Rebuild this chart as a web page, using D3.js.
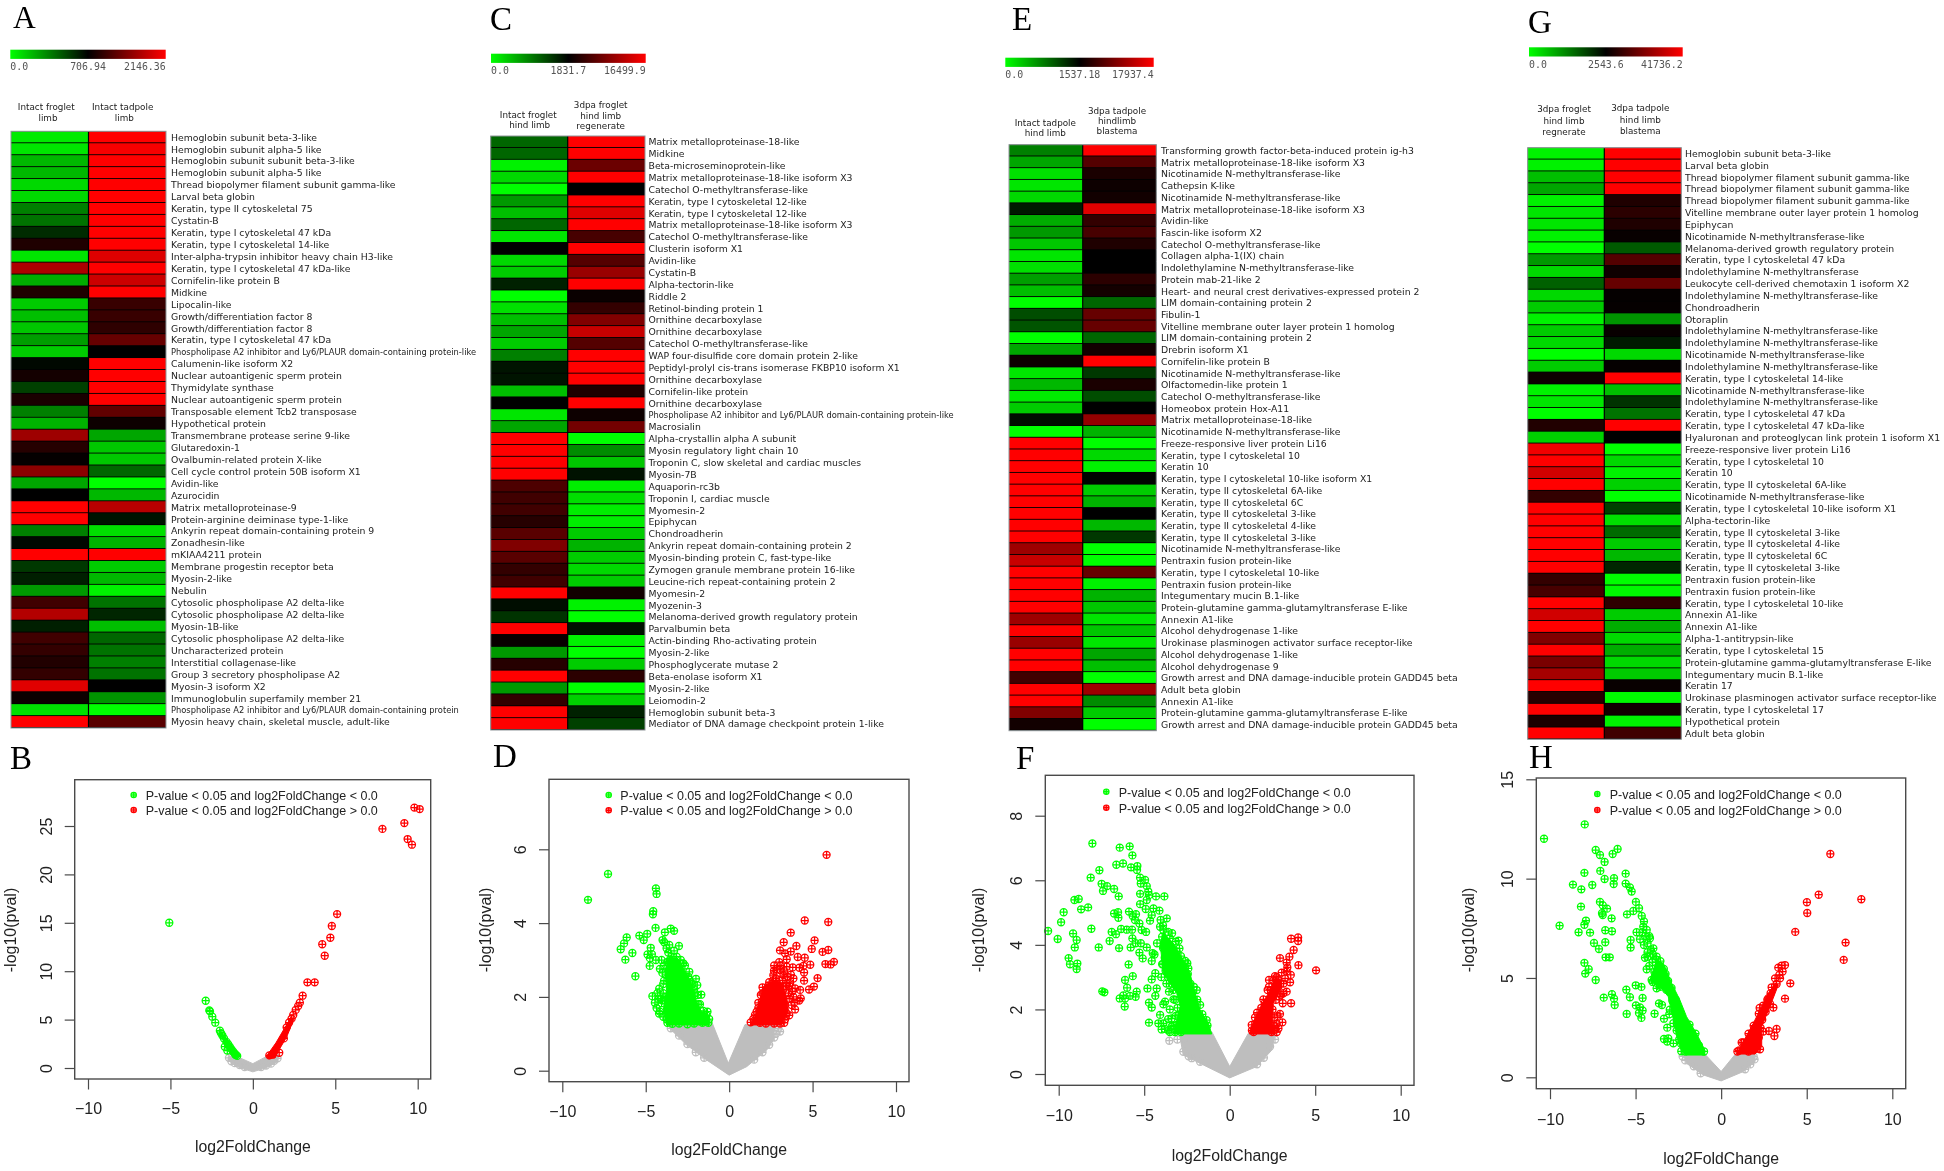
<!DOCTYPE html>
<html><head><meta charset="utf-8">
<script src="https://cdn.jsdelivr.net/npm/d3@7/dist/d3.min.js"></script>
<style>html,body{margin:0;padding:0;background:#fff}svg{display:block;filter:blur(.35px)}</style>
</head><body><svg id="fig" width="1944" height="1171"></svg>
<script>
/* ---------- heatmap data: row labels and the two columns, -1 green .. 0 black .. +1 red ---------- */
const aLabels=["Hemoglobin subunit beta-3-like","Hemoglobin subunit alpha-5 like","Hemoglobin subunit subunit beta-3-like","Hemoglobin subunit alpha-5 like","Thread biopolymer filament subunit gamma-like","Larval beta globin","Keratin, type II cytoskeletal 75","Cystatin-B","Keratin, type I cytoskeletal 47 kDa","Keratin, type I cytoskeletal 14-like","Inter-alpha-trypsin inhibitor heavy chain H3-like","Keratin, type I cytoskeletal 47 kDa-like","Cornifelin-like protein B","Midkine","Lipocalin-like","Growth/differentiation factor 8","Growth/differentiation factor 8","Keratin, type I cytoskeletal 47 kDa","Phospholipase A2 inhibitor and Ly6/PLAUR domain-containing protein-like","Calumenin-like isoform X2","Nuclear autoantigenic sperm protein","Thymidylate synthase","Nuclear autoantigenic sperm protein","Transposable element Tcb2 transposase","Hypothetical protein","Transmembrane protease serine 9-like","Glutaredoxin-1","Ovalbumin-related protein X-like","Cell cycle control protein 50B isoform X1","Avidin-like","Azurocidin","Matrix metalloproteinase-9","Protein-arginine deiminase type-1-like","Ankyrin repeat domain-containing protein 9","Zonadhesin-like","mKIAA4211 protein","Membrane progestin receptor beta","Myosin-2-like","Nebulin","Cytosolic phospholipase A2 delta-like","Cytosolic phospholipase A2 delta-like","Myosin-1B-like","Cytosolic phospholipase A2 delta-like","Uncharacterized protein","Interstitial collagenase-like","Group 3 secretory phospholipase A2","Myosin-3 isoform X2","Immunoglobulin superfamily member 21","Phospholipase A2 inhibitor and Ly6/PLAUR domain-containing protein","Myosin heavy chain, skeletal muscle, adult-like"];
const aCol1=[-.92,-.9,-.72,-.72,-.85,-.85,-.5,-.45,-.17,.12,-.9,.68,-.68,.12,-.8,-.75,-.78,-.62,-.8,-.03,.08,-.25,.1,-.5,-.7,.62,.15,.02,.55,-.65,0,1,1,-.5,-.03,1,-.22,-.12,-.6,.25,.7,-.12,.25,.2,.13,.2,.88,.05,-.88,1];
const aCol2=[1,.97,1,1,1,1,1,1,1,1,.87,1,.8,1,.22,.22,.18,.4,0,1,1,1,1,.38,.05,-.65,-.78,-.78,-.4,-1,-.72,.72,-.08,-.88,-.7,1,-.8,-.72,-.95,-.45,-.15,-.75,-.4,-.45,-.5,-.45,0,-.58,-1,.35];
const cLabels=["Matrix metalloproteinase-18-like","Midkine","Beta-microseminoprotein-like","Matrix metalloproteinase-18-like isoform X3","Catechol O-methyltransferase-like","Keratin, type I cytoskeletal 12-like","Keratin, type I cytoskeletal 12-like","Matrix metalloproteinase-18-like isoform X3","Catechol O-methyltransferase-like","Clusterin isoform X1","Avidin-like","Cystatin-B","Alpha-tectorin-like","Riddle 2","Retinol-binding protein 1","Ornithine decarboxylase","Ornithine decarboxylase","Catechol O-methyltransferase-like","WAP four-disulfide core domain protein 2-like","Peptidyl-prolyl cis-trans isomerase FKBP10 isoform X1","Ornithine decarboxylase","Cornifelin-like protein","Ornithine decarboxylase","Phospholipase A2 inhibitor and Ly6/PLAUR domain-containing protein-like","Macrosialin","Alpha-crystallin alpha A subunit","Myosin regulatory light chain 10","Troponin C, slow skeletal and cardiac muscles","Myosin-7B","Aquaporin-rc3b","Troponin I, cardiac muscle","Myomesin-2","Epiphycan","Chondroadherin","Ankyrin repeat domain-containing protein 2","Myosin-binding protein C, fast-type-like","Zymogen granule membrane protein 16-like","Leucine-rich repeat-containing protein 2","Myomesin-2","Myozenin-3","Melanoma-derived growth regulatory protein","Parvalbumin beta","Actin-binding Rho-activating protein","Myosin-2-like","Phosphoglycerate mutase 2","Beta-enolase isoform X1","Myosin-2-like","Leiomodin-2","Hemoglobin subunit beta-3","Mediator of DNA damage checkpoint protein 1-like"];
const cCol1=[-.4,-.4,-.95,-.85,-1,-.6,-.75,-.4,-.9,0,-.85,-.8,-.13,-1,-.88,-.75,-.65,-.8,-.5,-.08,-.08,-.75,0,-.9,-.65,1,1,1,1,.3,.25,.25,.15,.35,.5,.35,.2,.25,1,-.05,-.2,1,.03,-.6,.15,1,-.6,.2,1,1];
const cCol2=[1,1,.42,1,0,1,.88,1,.28,1,.33,.6,1,.04,.2,.5,.78,.33,1,1,1,.12,1,.05,.45,-1,-.55,-.78,-.07,-.93,-.87,-.93,-.93,-.8,-.7,-.8,-.85,-.8,.07,-.95,-1,-.07,-.95,-1,-.8,.17,-1,-.82,-.13,-.25];
const eLabels=["Transforming growth factor-beta-induced protein ig-h3","Matrix metalloproteinase-18-like isoform X3","Nicotinamide N-methyltransferase-like","Cathepsin K-like","Nicotinamide N-methyltransferase-like","Matrix metalloproteinase-18-like isoform X3","Avidin-like","Fascin-like isoform X2","Catechol O-methyltransferase-like","Collagen alpha-1(IX) chain","Indolethylamine N-methyltransferase-like","Protein mab-21-like 2","Heart- and neural crest derivatives-expressed protein 2","LIM domain-containing protein 2","Fibulin-1","Vitelline membrane outer layer protein 1 homolog","LIM domain-containing protein 2","Drebrin isoform X1","Cornifelin-like protein B","Nicotinamide N-methyltransferase-like","Olfactomedin-like protein 1","Catechol O-methyltransferase-like","Homeobox protein Hox-A11","Matrix metalloproteinase-18-like","Nicotinamide N-methyltransferase-like","Freeze-responsive liver protein Li16","Keratin, type I cytoskeletal 10","Keratin 10","Keratin, type I cytoskeletal 10-like isoform X1","Keratin, type II cytoskeletal 6A-like","Keratin, type II cytoskeletal 6C","Keratin, type II cytoskeletal 3-like","Keratin, type II cytoskeletal 4-like","Keratin, type II cytoskeletal 3-like","Nicotinamide N-methyltransferase-like","Pentraxin fusion protein-like","Keratin, type I cytoskeletal 10-like","Pentraxin fusion protein-like","Integumentary mucin B.1-like","Protein-glutamine gamma-glutamyltransferase E-like","Annexin A1-like","Alcohol dehydrogenase 1-like","Urokinase plasminogen activator surface receptor-like","Alcohol dehydrogenase 1-like","Alcohol dehydrogenase 9","Growth arrest and DNA damage-inducible protein GADD45 beta","Adult beta globin","Annexin A1-like","Protein-glutamine gamma-glutamyltransferase E-like","Growth arrest and DNA damage-inducible protein GADD45 beta"];
const eCol1=[-.5,-.65,-.88,-.9,-.85,-.1,-.68,-.6,-.78,-.9,-.88,-.62,-.75,-1,-.3,-.33,-1,-.65,.05,-.9,-.72,-.92,-.8,-.05,-1,1,1,1,1,1,1,1,1,1,.62,.78,1,1,1,1,.62,1,.6,1,1,.25,1,1,.5,.07];
const eCol2=[1,.33,.1,.05,.07,.88,.2,.28,.12,0,0,.17,.08,-.4,.4,.4,-.4,.07,1,-.22,.1,-.3,0,.58,-.7,-1,-.85,-.95,-.02,-.8,-.7,0,-.72,-.22,-1,-1,.4,-.95,-.7,-.78,-.9,-.78,-.9,-.65,-.75,-1,.62,-.55,-.8,-1];
const gLabels=["Hemoglobin subunit beta-3-like","Larval beta globin","Thread biopolymer filament subunit gamma-like","Thread biopolymer filament subunit gamma-like","Thread biopolymer filament subunit gamma-like","Vitelline membrane outer layer protein 1 homolog","Epiphycan","Nicotinamide N-methyltransferase-like","Melanoma-derived growth regulatory protein","Keratin, type I cytoskeletal 47 kDa","Indolethylamine N-methyltransferase","Leukocyte cell-derived chemotaxin 1 isoform X2","Indolethylamine N-methyltransferase-like","Chondroadherin","Otoraplin","Indolethylamine N-methyltransferase-like","Indolethylamine N-methyltransferase-like","Nicotinamide N-methyltransferase-like","Indolethylamine N-methyltransferase-like","Keratin, type I cytoskeletal 14-like","Nicotinamide N-methyltransferase-like","Indolethylamine N-methyltransferase-like","Keratin, type I cytoskeletal 47 kDa","Keratin, type I cytoskeletal 47 kDa-like","Hyaluronan and proteoglycan link protein 1 isoform X1","Freeze-responsive liver protein Li16","Keratin, type I cytoskeletal 10","Keratin 10","Keratin, type II cytoskeletal 6A-like","Nicotinamide N-methyltransferase-like","Keratin, type I cytoskeletal 10-like isoform X1","Alpha-tectorin-like","Keratin, type II cytoskeletal 3-like","Keratin, type II cytoskeletal 4-like","Keratin, type II cytoskeletal 6C","Keratin, type II cytoskeletal 3-like","Pentraxin fusion protein-like","Pentraxin fusion protein-like","Keratin, type I cytoskeletal 10-like","Annexin A1-like","Annexin A1-like","Alpha-1-antitrypsin-like","Keratin, type I cytoskeletal 15","Protein-glutamine gamma-glutamyltransferase E-like","Integumentary mucin B.1-like","Keratin 17","Urokinase plasminogen activator surface receptor-like","Keratin, type I cytoskeletal 17","Hypothetical protein","Adult beta globin"];
const gCol1=[-.95,-.95,-.75,-.65,-.95,-.9,-.9,-.95,-1,-.6,-.85,-.38,-.85,-.8,-.95,-.8,-.85,-1,-.8,.05,-.95,-.9,-1,.13,-.82,.95,1,.82,1,.2,1,1,1,1,1,1,.2,.28,1,.82,1,.5,1,.48,.65,1,.15,1,.1,1];
const gCol2=[1,1,1,1,.12,.17,.12,.03,-.35,.33,.06,.4,.02,.02,-.58,.03,-.1,-.85,.02,1,-.75,-.2,-.45,1,0,-1,-.85,-.95,-.82,-1,-.25,-.88,-.42,-.8,-.72,-.15,-1,-.98,.18,-.8,-.68,-.85,-.68,-.85,-.8,.03,-.98,.07,-.95,.25];

/* ---------- colour key tick labels and column titles ---------- */
const aKeyTicks=["0.0","706.94","2146.36"];
const cKeyTicks=["0.0","1831.7","16499.9"];
const eKeyTicks=["0.0","1537.18","17937.4"];
const gKeyTicks=["0.0","2543.6","41736.2"];
const aColTitles=[["Intact froglet","limb"],["Intact tadpole","limb"]];
const cColTitles=[["Intact froglet","hind limb"],["3dpa froglet","hind limb","regenerate"]];
const eColTitles=[["Intact tadpole","hind limb"],["3dpa tadpole","hindlimb","blastema"]];
const gColTitles=[["3dpa froglet","hind limb","regnerate"],["3dpa tadpole","hind limb","blastema"]];

/* ---------- volcano data: [log2FoldChange, -log10(pval)] ---------- */
const xTicks=[-10,-5,0,5,10];
const bYTicks=[0,5,10,15,20,25], dYTicks=[0,2,4,6], fYTicks=[0,2,4,6,8], hYTicks=[0,5,10,15];
const legendTexts=["P-value < 0.05 and log2FoldChange < 0.0","P-value < 0.05 and log2FoldChange > 0.0"];

const bGreen=[[-5.07,15],[-2.86,6.95],[-2.64,5.95],[-2.6,5.85],[-2.46,5.3],[-2.28,4.68],[-2,3.85],[-1.93,3.6],[-1.85,3.35],[-1.75,3.05],[-1.6,2.7],[-1.5,2.45],[-1.4,2.2],[-1.3,1.95],[-1.2,1.7],[-1.1,1.5],[-1.03,1.35],[-1.7,2.2],[-1.55,1.8],[-.95,1.25]];
const bRed=[[10.12,26.75],[9.8,26.9],[9.19,25.3],[7.86,24.7],[9.39,23.65],[9.65,23.07],[5.11,15.9],[4.79,14.67],[4.7,13.46],[4.21,12.78],[4.36,11.6],[3.31,8.85],[3.75,8.85],[3.02,7.47],[2.85,6.75],[2.75,6.4],[2.6,6],[2.45,5.48],[2.35,5.1],[2.2,4.7],[2.05,4.2],[1.6,1.58],[1.88,3.06],[1,1.3],[1.2,1.4]];
const bGray=[[-1.45,1.05],[-1.3,.7],[-1.1,.5],[-.8,.3],[-.5,.1],[1.5,1],[1.3,.75],[1.1,.45],[.8,.25],[.5,.1]];
const bGreenCore=[[-2.05,3.9],[-1.6,3.05],[-1,1.7],[-.75,1.2],[-1.2,1.05],[-1.5,1.95],[-1.95,3.35]];
const bRedCore=[[.82,1.2],[1.4,2.6],[1.9,4.05],[2.3,5.15],[2.48,5],[2.05,3.2],[1.65,2.05],[1.35,1.05],[.95,.95]];
const bGrayCore=[[-1.49,1.2],[-.98,1.2],[0,.45],[.84,1.2],[1.55,1.15],[1.5,.65],[.84,.05],[0,-.4],[-.98,.15],[-1.49,.8]];

const dGreen=[[-8.46,4.63],[-7.26,5.33],[-4.39,4.94],[-4.35,4.79],[-4.55,4.32],[-4.57,4.24],[-4.41,3.87],[-5.38,3.66],[-4.91,3.71],[-5.12,3.54],[-6.14,3.61],[-6.3,3.45],[-6.5,3.29],[-5.8,3.19],[-6.22,3.01],[-5.62,2.56],[-4.7,3.33],[-4.89,3.15],[-4.63,3.16],[-4.75,3.05],[-4.76,2.84],[-4.39,3],[-4.15,2.76],[-3.5,3.85],[-3.3,3.79],[-3.85,3.75],[-3.99,3.54],[-3.89,3.48],[-3.59,3.41],[-3.01,3.38],[-3.75,3.32],[-3.65,3.2],[-4.05,3],[-3.45,3.09],[-3.15,3.09],[-2.75,2.91],[-2.39,2.68],[-3.9,2.44],[-4.19,2.22],[-4.6,2.02],[-4.45,1.84],[-4.05,1.83],[-4.15,1.6],[-3.95,1.46],[-1.99,2.49],[-1.91,2.32],[-1.67,2.06],[-1.35,1.5],[-3.2,2.95],[-3.6,2.9],[-3.9,2.85],[-2.95,2.9],[-2.6,2.45],[-2.3,2.4],[-2.1,2.2],[-1.9,2.05],[-1.75,1.8],[-1.55,1.62],[-1.2,1.4],[-1.25,1.3],[-1.6,1.3],[-2.1,1.28],[-2.5,1.26],[-3,1.28],[-3.4,1.27],[-3.7,1.3],[-3.85,2],[-3.95,2.1],[-4.25,1.95],[-4.35,1.7],[-4.2,1.55],[-4.1,1.95],[-3.95,2.35],[-3.8,2.6],[-4,2.65],[-3.75,1.4],[-4.3,2.1],[-4,1.9],[-3.7,2.95],[-3.4,3],[-3.3,3.25],[-3.55,3],[-2.9,3],[-2.65,2.85],[-2.45,2.55],[-2.2,2.35],[-2.05,2.1],[-1.85,1.8],[-1.6,1.5],[-1.3,1.6]];
const dRed=[[5.84,5.85],[4.53,4.07],[5.94,4.03],[3.69,3.74],[5.12,3.53],[3.27,3.48],[4.03,3.38],[3.05,3.26],[3.69,3.23],[4.95,3.3],[5.94,3.27],[5.6,3.22],[3.35,3.18],[3.45,3.02],[4.11,3.08],[4.53,3.06],[3,2.94],[6.28,2.95],[5.77,2.89],[6.08,2.88],[4.86,2.87],[4.45,2.84],[4.21,2.79],[3.81,2.8],[3.45,2.82],[4.49,2.66],[2.69,2.71],[3.05,2.73],[2.65,2.59],[3.25,2.59],[3.85,2.5],[5.3,2.51],[4.49,2.44],[3.65,2.37],[5.08,2.28],[4.79,2.2],[4.25,2.19],[3.95,2.23],[3.55,2.1],[3.85,2],[4.29,1.96],[4.2,1.9],[3.75,1.78],[3.95,1.66],[3.45,1.55],[3.35,1.39],[3.05,1.28],[2,2.26],[1.75,1.84],[1.29,1.31],[1.55,1.51],[2.65,2.45],[2.8,2.5],[3,2.45],[3.25,2.2],[3.45,2.35],[3.6,2.3],[2.35,2.3],[1.9,2.05],[1.65,1.6],[1.45,1.4],[2.2,1.28],[2.7,1.28],[1.85,1.3],[3.1,2.85],[2.85,2.75],[2.7,2.85],[3.3,2.7],[3.5,2.55],[3.7,2.6],[3.4,2.3],[3.6,1.95],[3.8,2.15],[3.6,1.5],[3.3,1.6],[3.9,1.85],[2,2.1],[1.75,1.7],[1.5,1.35],[3.2,2.45],[2.4,2.4],[2.9,2.35],[3.3,1.3],[1.95,1.55]];
const dGray=[[3.05,1.06],[2.95,1.15],[2.8,1],[2.7,.9],[-3.5,1.15],[-3,.95],[-2.5,.72],[-2,.5],[-1.5,.35],[2.4,.7],[2,.5],[1.5,.3]];
const dGreenCore=[[-3.75,1.24],[-3.95,1.64],[-3.75,2.18],[-3.85,2.73],[-3.55,3.09],[-2.95,2.95],[-2.55,2.63],[-2.15,2.23],[-1.95,1.87],[-1.65,1.6],[-1.19,1.48],[-1.19,1.24]];
const dRedCore=[[1.25,1.24],[1.55,1.47],[1.85,1.92],[2.05,2.28],[2.65,2.46],[3.15,2.37],[3.45,2],[3.55,1.64],[3.15,1.24]];
const dGrayCore=[[-3.65,1.25],[-1.05,1.33],[-.05,.2],[.95,1.25],[2.75,1.25],[2.65,.83],[2.25,.56],[1.05,.11],[0,-.12],[-1.35,.29],[-2.55,.7],[-3.55,1.14]];

const fGreen=[[-8.03,7.14],[-6.43,7.01],[-5.85,7.05],[-5.69,6.77],[-6.63,6.48],[-6.24,6.52],[-7.62,6.31],[-5.77,6.4],[-5.4,6.44],[-5.42,6.32],[-8.13,6.08],[-7.49,5.89],[-7.17,5.82],[-6.76,5.73],[-7.41,5.67],[-6.49,5.5],[-5.24,6.08],[-4.95,6.01],[-5.2,5.9],[-4.85,5.82],[-5.24,5.58],[-4.76,5.65],[-4.72,5.54],[-4.31,5.5],[-3.82,5.5],[-4.85,5.39],[-5.24,5.26],[-4.91,5.11],[-4.46,5.13],[-4.11,5.06],[-4.56,4.92],[-4.66,4.75],[-4.04,4.77],[-3.68,4.82],[-4.07,4.56],[-3.88,4.46],[-3.37,4.36],[-9.08,5.39],[-8.83,5.42],[-8.28,5.16],[-8.69,5.1],[-9.71,5.01],[-9.86,4.7],[-10.62,4.43],[-10.06,4.18],[-9.16,4.35],[-8.95,4.15],[-9.06,3.92],[-8.09,4.5],[-7.66,3.92],[-9.42,3.59],[-9.34,3.4],[-8.91,3.42],[-8.95,3.25],[-7.45,2.56],[-7.33,2.53],[-6.9,4.4],[-7.02,4.12],[-6.65,4.33],[-6.76,4.97],[-6.53,5.01],[-6.51,4.84],[-6.35,4.49],[-6.02,4.47],[-5.71,4.47],[-5.89,5.03],[-5.67,4.89],[-5.48,4.95],[-5.54,4.77],[-5.28,4.66],[-5.15,4.46],[-4.89,4.4],[-5.69,4.2],[-6.47,3.9],[-5.79,3.92],[-5.5,4.05],[-5.2,4.05],[-4.85,3.92],[-5.28,3.76],[-5.09,3.58],[-4.5,3.74],[-4.56,3.5],[-5.91,3.39],[-5.67,3.03],[-6.12,2.91],[-6,2.67],[-4.35,3.12],[-4.56,2.93],[-4.81,2.65],[-4.27,2.65],[-6.22,2.43],[-6.43,2.34],[-6.12,2.34],[-6.14,2.09],[-5.44,2.55],[-5.5,2.39],[-5.83,2.42],[-4.35,2.42],[-4.72,2.21],[-4.56,2.06],[-4.72,1.59],[-4.17,1.57],[-3.98,1.38],[-4.07,1.83],[-3.88,1.57],[-3.78,2.24],[-3.88,2.16],[-3.29,2.31],[-3.39,1.72],[-3,1.83],[-3.1,1.52],[-3.39,1.47],[-3,4.13],[-2.48,3.43],[-2.42,3.27],[-2.94,3.89],[-1.93,2.6],[-1.73,2.14],[-1.35,1.67],[-3.49,3.89],[-4.25,4.05],[-4.4,3.7],[-3.9,3.4],[-4,3],[-3.7,2.8],[-3.55,2.55],[-3.45,3.2],[-3.3,3.6],[-2.8,3.3],[-2.6,2.95],[-2.3,2.8],[-2.2,2.5],[-3.6,1.35],[-3.2,1.3],[-2.85,1.3],[-3.9,3.9],[-3.8,3.6],[-3.95,3.4],[-3.75,3.2],[-3.6,3],[-3.4,2.8],[-3.3,2.6],[-3.2,2.3],[-3.05,2.05],[-3.15,1.8],[-3.3,1.5],[-3.6,1.7],[-3.5,2],[-3.8,1.4],[-3.5,1.3],[-2.6,3.5],[-2.45,3.1],[-2.1,2.7],[-1.9,2.3],[-1.6,1.85],[-1.3,1.5],[-3.1,3.8],[-3.5,4.2],[-3.6,4.4],[-3.95,4.25],[-3.9,4.6],[-3.15,4.1],[-2.85,3.65]];
const fRed=[[5.05,3.21],[4.02,3.37],[4,4.23],[4,4.12],[3.59,4.19],[3.74,3.84],[2.94,3.59],[3.49,3.63],[3.33,3.45],[3.37,3.3],[3.33,3.17],[3.04,3.14],[3.57,3.07],[3.53,2.84],[3.24,2.96],[2.65,3.03],[2.3,2.91],[2.85,2.91],[3.33,2.55],[3.14,2.5],[2.22,2.6],[3.59,2.19],[3.1,2.19],[2.94,1.86],[3.08,1.6],[2.85,1.41],[1.97,2.31],[1.48,1.75],[1.29,1.52],[2.8,1.8],[2.75,1.55],[2.6,1.35],[2.9,2.4],[2.7,2.75],[1.3,1.35],[1.6,1.9],[1.85,2.05],[2.05,2.2],[2.4,2.6],[2.55,2.9],[2.85,2.7],[3,2.45],[2.7,2.3],[2.5,2],[2.6,1.75],[2.75,1.3],[2.45,1.3],[1.4,1.3],[2.6,1.5],[2.3,2.7],[2.75,3],[3.15,2.8]];
const fGray=[[-3.53,1.03],[-3.06,1.07],[-2.61,1.1],[2.65,1.07],[2.36,.85],[-2.71,.69],[-2.22,.49],[-1.73,.38],[2,.5],[1.6,.3],[-2.4,.55]];
const fGreenCore=[[-3.29,1.24],[-2.9,2.09],[-3.1,2.5],[-3.88,3.12],[-4.07,4.05],[-3.88,4.36],[-3.29,4.05],[-2.71,3.53],[-2.32,3.12],[-2.03,2.5],[-1.73,1.99],[-1.25,1.57],[-1.05,1.24]];
const fRedCore=[[1.15,1.24],[1.38,1.62],[1.87,2.14],[2.26,2.5],[2.65,2.96],[3.04,2.91],[3.04,2.7],[2.55,2.19],[2.51,1.57],[2.65,1.24]];
const fGrayCore=[[-2.9,1.25],[-1.05,1.31],[0,.23],[1.09,1.26],[2.65,1.25],[2.46,.74],[1.58,.23],[0,-.12],[-1.54,.28],[-2.71,.59],[-2.9,1.1]];

const hGreen=[[-10.35,12.01],[-7.97,12.73],[-7.33,11.44],[-7.08,11.19],[-6.81,10.84],[-6.34,11.24],[-6.05,11.49],[-7.06,10.39],[-7.99,10.29],[-6.81,9.98],[-6.26,10.02],[-6.28,9.73],[-5.58,10.25],[-5.58,9.75],[-5.33,9.56],[-5.23,9.35],[-8.66,9.7],[-7.53,9.68],[-8.17,9.46],[-7.08,8.83],[-6.92,8.66],[-6.67,8.49],[-8.19,8.59],[-6.96,8.26],[-6.92,8.17],[-6.4,8],[-5.5,8.2],[-5.13,8.37],[-4.98,8.83],[-4.8,8.51],[-4.64,8.12],[-7.9,7.89],[-7.99,7.68],[-9.44,7.63],[-8.33,7.3],[-7.66,7.28],[-6.77,7.4],[-6.38,7.35],[-7.43,6.76],[-6.77,6.8],[-7.14,6.46],[-6.75,6.04],[-6.51,6.04],[-5.29,6.91],[-5.29,6.53],[-4.94,7.3],[-4.74,6.95],[-4.51,7.84],[-4.55,7.58],[-4.35,7.42],[-4.16,7],[-4.51,6.66],[-4.45,6.02],[-4.31,6.07],[-4.35,5.44],[-3.96,6.49],[-3.77,6.07],[-7.99,5.76],[-7.74,5.44],[-7.94,5.22],[-7.33,4.9],[-6.86,4.01],[-6.38,4.18],[-6.26,3.96],[-6.22,3.64],[-5.54,4.41],[-5.33,4.03],[-4.99,4.63],[-4.66,4.55],[-4.59,3.99],[-4.98,3.62],[-4.74,3.52],[-4.59,3.36],[-4.8,3.24],[-4.66,2.99],[-5.52,3.19],[-3.89,3.2],[-3.63,3.72],[-3.46,3.64],[-3.34,2.95],[-3.15,2.5],[-3.34,1.93],[-3.15,1.8],[-2.79,1.71],[-3.09,1.96],[-2.33,1.31],[-3.03,3.17],[-2.79,2.72],[-4.06,4.9],[-3.77,4.48],[-3.57,4.56],[-4.45,7.1],[-4.3,6.75],[-4.1,6.4],[-4,6.2],[-3.85,5.95],[-4.2,5.6],[-3.9,5.3],[-3.55,5.85],[-3.35,5.45],[-3.1,4.85],[-2.9,4.5],[-2.65,3.9],[-2.4,3.1],[-2.2,2.8],[-1.85,2.65],[-1.5,2.2],[-2.6,2.35],[-2.45,1.9],[-3.5,5.5],[-3.8,5.1],[-4,4.8],[-3.7,4.7],[-3.25,5.2],[-3.2,4.4],[-2.85,3.85],[-3,3.4],[-2.7,3.3],[-2.55,2.9],[-2.2,2.4],[-2.35,1.7],[-1.7,1.9],[-1.3,1.6],[-1,1.3],[-2.1,1.3],[-4,5.8],[-4.3,6.3],[-4.6,7.3],[-4.2,7.1]];
const hRed=[[6.38,11.24],[5.7,9.19],[8.19,8.96],[5.01,8.81],[5.03,8.27],[4.33,7.32],[7.27,6.78],[7.16,5.91],[3.73,5.65],[3.53,5.62],[3.34,5.52],[3.59,5.32],[3.4,5.15],[3.44,4.98],[3.15,4.98],[4.04,4.73],[3.24,4.7],[2.95,4.53],[2.89,4.23],[2.76,3.98],[3.73,3.96],[2.25,3.49],[3.05,3.51],[3.24,2.43],[2.79,2.33],[2.46,2.3],[3.11,2.08],[2.27,1.41],[2.1,1.45],[1.2,1.75],[.95,1.3],[1.05,1.35],[1.3,1.75],[1.6,2.2],[1.9,2.6],[2.2,3.2],[2.45,3.6],[2.7,3.9],[2.85,3.7],[2.6,3.3],[2.4,2.9],[2.3,2.5],[2.2,2],[1.9,1.4],[1.6,1.3],[2.05,2.3]];
const hGray=[[-2.25,1.05],[-2.1,.85],[-1.6,.55],[-1.2,.2],[1.9,1.05],[1.95,.9],[1.7,.65],[1.4,.4]];
const hGreenCore=[[-2.31,1.3],[-2.6,2.05],[-2.79,2.89],[-3.09,4.06],[-3.57,4.56],[-4.16,4.9],[-3.77,5.9],[-3.38,5.74],[-2.89,4.73],[-2.41,3.89],[-2.02,3.05],[-1.44,2.21],[-.95,1.37],[-.95,1.12],[-2.02,1.12]];
const hRedCore=[[.91,1.17],[1.3,1.8],[1.88,2.72],[2.37,3.56],[2.76,4.23],[3.15,4.73],[3.34,4.65],[2.85,3.56],[2.37,2.55],[2.37,1.54],[1.98,1.17]];
const hGrayCore=[[-2.21,1.2],[-1.04,1.25],[0,.29],[.91,1.25],[1.98,1.2],[1.98,.79],[1.3,.29],[0,-.18],[-1.04,.12],[-2.02,.7]];

/* ---------- layout ---------- */
const heatmaps=[
 {letter:"A",lx:13,ly:28,ls:31.5,labels:aLabels,c1:aCol1,c2:aCol2,key:aKeyTicks,titles:aColTitles,x0:11,xm:88.5,x1:166,y0:131.3,y1:728,lblX:171,kx0:10.3,kx1:165.7,ky:49.7,kly:66.7,tx:[[46.3,48],[122.7,124.3]],ty:[[107,117.7],[107.3,118]]},
 {letter:"C",lx:490,ly:30,ls:33,labels:cLabels,c1:cCol1,c2:cCol2,key:cKeyTicks,titles:cColTitles,x0:490.7,xm:567.7,x1:645,y0:136,y1:730,lblX:648.5,kx0:491,kx1:645.7,ky:53.7,kly:70.3,tx:[[528.3,529.7],[600.7,600.7,600.7]],ty:[[114.7,125],[105.3,115.7,126]]},
 {letter:"E",lx:1012,ly:30,ls:33,labels:eLabels,c1:eCol1,c2:eCol2,key:eKeyTicks,titles:eColTitles,x0:1009,xm:1082.7,x1:1156.3,y0:144.7,y1:730.7,lblX:1161,kx0:1005.3,kx1:1153.7,ky:57.7,kly:74,tx:[[1045.3,1045.3],[1117,1117,1117]],ty:[[123,132.7],[111,121,131]]},
 {letter:"G",lx:1528,ly:33,ls:33,labels:gLabels,c1:gCol1,c2:gCol2,key:gKeyTicks,titles:gColTitles,x0:1527.7,xm:1604.3,x1:1681.3,y0:147.7,y1:739.3,lblX:1685,kx0:1529,kx1:1682.7,ky:47.3,kly:64,tx:[[1564,1564,1564],[1640.3,1640.3,1640.3]],ty:[[109.3,120.7,132],[108.3,119.7,131]]}
];
const volcanoes=[
 {letter:"B",lx:10,ly:769,ls:33,green:bGreen,red:bRed,gray:bGray,gCore:bGreenCore,rCore:bRedCore,grCore:bGrayCore,yTicks:bYTicks,fx0:74.7,fx1:430.7,fy0:779.7,fy1:1079,xm10:88,xp10:417.7,y0px:1068,ytop:25,ytopPx:826,xTickY:1108,xLblY:1146,yLblX:10,yTickX:47,yLblCy:930,legX:133.7,legTx:145.7,legY:[795,810]},
 {letter:"D",lx:493,ly:767,ls:33,green:dGreen,red:dRed,gray:dGray,gCore:dGreenCore,rCore:dRedCore,grCore:dGrayCore,yTicks:dYTicks,fx0:549,fx1:909,fy0:779.3,fy1:1081.7,xm10:562.3,xp10:896,y0px:1070.7,ytop:6,ytopPx:849.3,xTickY:1111.7,xLblY:1149.3,yLblX:485,yTickX:520.7,yLblCy:930,legX:608.7,legTx:620.3,legY:[795,810.3]},
 {letter:"F",lx:1016,ly:769,ls:33,green:fGreen,red:fRed,gray:fGray,gCore:fGreenCore,rCore:fRedCore,grCore:fGrayCore,yTicks:fYTicks,fx0:1045.3,fx1:1414,fy0:775.3,fy1:1085.3,xm10:1058.7,xp10:1400.7,y0px:1074,ytop:8,ytopPx:815.7,xTickY:1115.7,xLblY:1155,yLblX:978,yTickX:1016.7,yLblCy:930,legX:1106.3,legTx:1118.7,legY:[791.7,807.7]},
 {letter:"H",lx:1529,ly:768,ls:33,green:hGreen,red:hRed,gray:hGray,gCore:hGreenCore,rCore:hRedCore,grCore:hGrayCore,yTicks:hYTicks,fx0:1536.3,fx1:1905.7,fy0:778,fy1:1088.7,xm10:1550,xp10:1892.3,y0px:1077.3,ytop:15,ytopPx:779.3,xTickY:1119,xLblY:1158.3,yLblX:1468,yTickX:1507.7,yLblCy:930,legX:1597.3,legTx:1609.7,legY:[794,810]}
];

const svg=d3.select("#fig");
svg.append("rect").attr("width",1944).attr("height",1171).attr("fill","#fff");
const defs=svg.append("defs");
const heatColor=d3.scaleLinear().domain([-1,0,1]).range(["#00ff00","#000000","#ff0000"]);
const grad=defs.append("linearGradient").attr("id","keyGrad");
[-1,-.5,0,.5,1].forEach(v=>grad.append("stop").attr("offset",(v+1)/2).attr("stop-color",heatColor(v)));

function panelLetter(p){
  svg.append("text").attr("x",p.lx).attr("y",p.ly).text(p.letter)
    .attr("font-family","Liberation Serif").attr("font-size",p.ls).attr("fill","#000");
}

/* ---------- heatmaps ---------- */
heatmaps.forEach(p=>{
  panelLetter(p);
  const g=svg.append("g");
  const rows=d3.scaleBand().domain(d3.range(p.labels.length)).range([p.y0,p.y1]);
  const cols=[{x:p.x0,w:p.xm-p.x0,v:p.c1},{x:p.xm,w:p.x1-p.xm,v:p.c2}];
  g.append("rect").attr("x",p.x0).attr("y",p.y0).attr("width",p.x1-p.x0).attr("height",p.y1-p.y0).attr("fill","#000");
  cols.forEach((c,ci)=>{
    g.selectAll(null).data(c.v).join("rect")
      .attr("x",c.x+(ci?.6:0)).attr("width",c.w-.6)
      .attr("y",(d,i)=>rows(i)).attr("height",rows.bandwidth()-.9)
      .attr("fill",d=>heatColor(d));
  });
  g.append("rect").attr("x",p.x0).attr("y",p.y0).attr("width",p.x1-p.x0).attr("height",p.y1-p.y0)
    .attr("fill","none").attr("stroke","#8f9699").attr("stroke-width",1);
  g.selectAll(null).data(p.labels).join("text")
    .attr("x",p.lblX).attr("y",(d,i)=>rows(i)+rows.bandwidth()/2).attr("dy","0.36em")
    .attr("font-family","DejaVu Sans").attr("font-size",d=>d.length>60?8.3:9.3).attr("fill","#222").text(d=>d);
  // colour key
  g.append("rect").attr("x",p.kx0).attr("y",p.ky).attr("width",p.kx1-p.kx0).attr("height",9.2).attr("fill","url(#keyGrad)");
  const kmono=(t,x,a)=>g.append("text").attr("x",x).attr("y",p.kly).attr("dy","0.36em").attr("text-anchor",a)
    .attr("font-family","DejaVu Sans Mono").attr("font-size",9.9).attr("fill","#555").text(t);
  kmono(p.key[0],p.kx0,"start");kmono(p.key[1],(p.kx0+p.kx1)/2,"middle");kmono(p.key[2],p.kx1,"end");
  // column titles
  p.titles.forEach((lines,ci)=>lines.forEach((t,li)=>{
    g.append("text").attr("x",p.tx[ci][li]).attr("y",p.ty[ci][li]).attr("dy","0.36em").attr("text-anchor","middle")
      .attr("font-family","DejaVu Sans").attr("font-size",8.8).attr("fill","#222").text(t);
  }));
});

/* ---------- volcano plots ---------- */
const R=3.55;
const markerPath=r=>`M${-r},0A${r},${r} 0 1,1 ${r},0A${r},${r} 0 1,1 ${-r},0ZM${-r},0H${r}M0,${-r}V${r}`;
const COL={green:"#00ff00",red:"#ff0000",gray:"#bebebe"};
volcanoes.forEach(p=>{
  panelLetter(p);
  const g=svg.append("g");
  const x=d3.scaleLinear().domain([-10,10]).range([p.xm10,p.xp10]);
  const y=d3.scaleLinear().domain([0,p.ytop]).range([p.y0px,p.ytopPx]);
  const line=d3.line().x(d=>x(d[0])).y(d=>y(d[1])).curve(d3.curveLinearClosed);
  const core=(data,c)=>g.append("path").attr("d",line(data)).attr("fill",c).attr("stroke",c).attr("stroke-width",1);
  const pts=(data,c)=>g.selectAll(null).data(data).join("path").attr("d",markerPath(R))
      .attr("transform",d=>`translate(${x(d[0])},${y(d[1])})`).attr("fill","none").attr("stroke",c).attr("stroke-width",1.25);
  core(p.grCore,COL.gray); pts(p.gray,COL.gray);
  core(p.gCore,COL.green); pts(p.green,COL.green);
  core(p.rCore,COL.red); pts(p.red,COL.red);

  // frame + axes
  g.append("rect").attr("x",p.fx0).attr("y",p.fy0).attr("width",p.fx1-p.fx0).attr("height",p.fy1-p.fy0)
    .attr("fill","none").attr("stroke","#4a4a4a").attr("stroke-width",1.4);
  const ax=g.append("g").attr("transform",`translate(0,${p.fy1})`)
    .call(d3.axisBottom(x).tickValues(xTicks).tickSize(10.5).tickPadding(0).tickFormat(d3.format("d")));
  ax.select(".domain").remove();
  ax.selectAll("line").attr("stroke","#4a4a4a").attr("stroke-width",1.2);
  ax.selectAll("text").attr("y",p.xTickY-p.fy1).attr("dy","0.36em").attr("font-family","Liberation Sans").attr("font-size",16).attr("fill","#222");
  const ay=g.append("g").attr("transform",`translate(${p.fx0},0)`)
    .call(d3.axisLeft(y).tickValues(p.yTicks).tickSize(10).tickFormat(d3.format("d")));
  ay.select(".domain").remove();
  ay.selectAll("line").attr("stroke","#4a4a4a").attr("stroke-width",1.2);
  ay.selectAll("text").attr("x",null).attr("dy",null).attr("text-anchor","middle").attr("dominant-baseline","central")
    .attr("transform",function(d){return `translate(${p.yTickX-p.fx0},0) rotate(-90)`;})
    .attr("font-family","Liberation Sans").attr("font-size",16).attr("fill","#222");
  g.append("text").attr("x",x(0)).attr("y",p.xLblY).attr("dy","0.36em").attr("text-anchor","middle")
    .attr("font-family","Liberation Sans").attr("font-size",15.8).attr("fill","#222").text("log2FoldChange");
  g.append("text").attr("transform",`translate(${p.yLblX},${p.yLblCy}) rotate(-90)`).attr("text-anchor","middle").attr("dominant-baseline","central")
    .attr("font-family","Liberation Sans").attr("font-size",16).attr("fill","#222").text("-log10(pval)");
  // legend
  [COL.green,COL.red].forEach((c,i)=>{
    g.append("path").attr("d",markerPath(2.7)).attr("transform",`translate(${p.legX},${p.legY[i]})`).attr("fill",c).attr("fill-opacity",.45).attr("stroke",c).attr("stroke-width",1.2);
    g.append("text").attr("x",p.legTx).attr("y",p.legY[i]+.6).attr("dy","0.36em")
      .attr("font-family","Liberation Sans").attr("font-size",12.5).attr("fill","#222").text(legendTexts[i]);
  });
});
</script></body></html>
